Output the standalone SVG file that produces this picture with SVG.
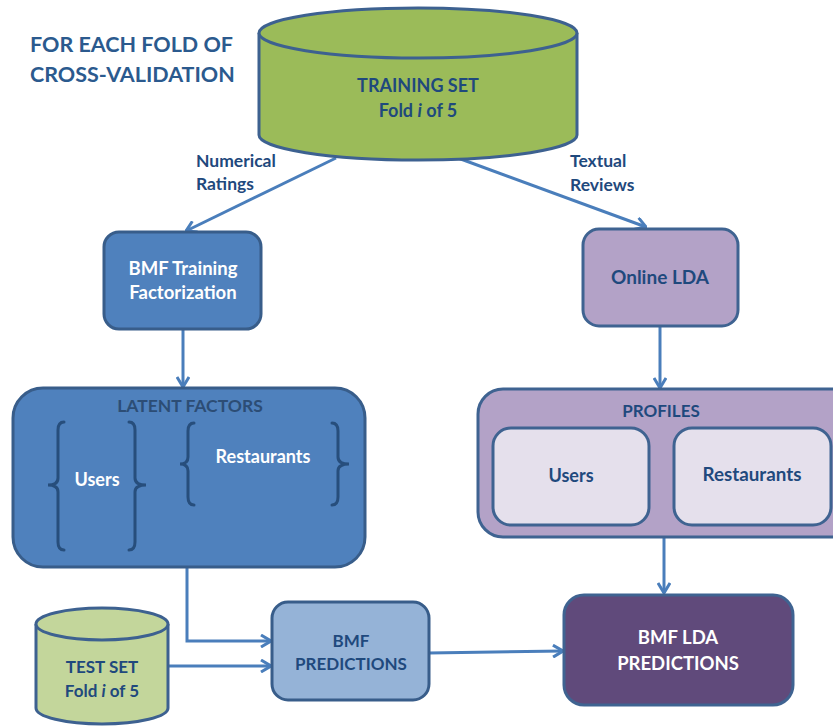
<svg xmlns="http://www.w3.org/2000/svg" width="833" height="727" viewBox="0 0 833 727">
<defs>
<style>
text{font-family:Lato,"Open Sans","Liberation Sans",sans-serif;font-weight:bold;text-anchor:middle}
.dk{fill:#1f497d}
.wh{fill:#ffffff}
.ttl{fill:#2b5a8e;font-size:21.5px;text-anchor:start}
.lbl{fill:#1f497d;font-size:17.5px;text-anchor:start}
.t18{font-size:18px}
.t17{font-size:17px}
.conn{fill:none;stroke:#4a7ebb;stroke-width:3}
.brace{fill:none;stroke:#274e7c;stroke-width:3;stroke-linecap:round}
.blue{fill:#4f81bd;stroke:#385d8a;stroke-width:3}
.lblue{fill:#95b3d7;stroke:#385d8a;stroke-width:3}
.purp{fill:#b3a2c7;stroke:#3f6391;stroke-width:3}
.lpurp{fill:#e5e0ec;stroke:#3f6391;stroke-width:3}
.dpurp{fill:#604a7b;stroke:#3f6391;stroke-width:3}
.green{fill:#9bbb59;stroke:#3d6190;stroke-width:3}
.lgreen{fill:#c3d69b;stroke:#3d6190;stroke-width:3}
</style>
<marker id="arr" viewBox="0 0 12 14" refX="11" refY="7" markerWidth="12" markerHeight="14" markerUnits="userSpaceOnUse" orient="auto">
<path d="M1,1 L11,7 L1,13" fill="none" stroke="#4a7ebb" stroke-width="3" stroke-linejoin="miter"/>
</marker>
</defs>
<rect width="833" height="727" fill="#ffffff"/>

<g id="title">
<text class="ttl" x="30" y="52">FOR EACH FOLD OF</text>
<text class="ttl" x="30" y="82">CROSS-VALIDATION</text>
</g>

<g id="connectors">
<line class="conn" x1="336" y1="158" x2="186" y2="231" marker-end="url(#arr)"/>
<line class="conn" x1="458" y1="158" x2="646" y2="227" marker-end="url(#arr)"/>
<line class="conn" x1="183" y1="329" x2="183" y2="387" marker-end="url(#arr)"/>
<line class="conn" x1="660" y1="326" x2="660" y2="388" marker-end="url(#arr)"/>
<line class="conn" x1="664" y1="537" x2="664" y2="593" marker-end="url(#arr)"/>
<polyline class="conn" points="187,567 187,641 271,641" marker-end="url(#arr)"/>
<line class="conn" x1="168" y1="666" x2="271" y2="666" marker-end="url(#arr)"/>
<line class="conn" x1="429" y1="653" x2="563" y2="651" marker-end="url(#arr)"/>
<text class="lbl" x="196" y="167">Numerical</text>
<text class="lbl" x="196" y="190">Ratings</text>
<text class="lbl" x="570" y="167">Textual</text>
<text class="lbl" x="570" y="191">Reviews</text>
</g>

<g id="training-set">
<path class="green" d="M259,33 L259,135 A159,25 0 0 0 577,135 L577,33 A159,25 0 0 0 259,33 Z"/>
<path class="green" d="M259,33 A159,25 0 0 0 577,33"/>
<text class="dk" x="418" y="92" font-size="18">TRAINING SET</text>
<text class="dk" x="418" y="117" font-size="18">Fold <tspan font-style="italic">i</tspan> of 5</text>
</g>

<g id="bmf-training">
<rect class="blue" x="104" y="232" width="157" height="97" rx="15"/>
<text class="wh" x="183" y="275" font-size="18.5">BMF Training</text>
<text class="wh" x="183" y="299" font-size="18.5">Factorization</text>
</g>

<g id="online-lda">
<rect class="purp" x="583" y="229" width="155" height="97" rx="16"/>
<text class="dk" x="660" y="284" font-size="19">Online LDA</text>
</g>

<g id="latent-factors">
<rect class="blue" x="13" y="388" width="352" height="179" rx="30"/>
<text x="190" y="412" font-size="17.5" font-weight="normal" fill="#2c4d75">LATENT FACTORS</text>
<path class="brace" d="M64,422 Q58,422 58,430 L58,478 Q58,485 48,485 Q58,485 58,492 L58,542 Q58,550 64,550"/>
<path class="brace" d="M129,422 Q135,422 135,430 L135,478 Q135,485 146,485 Q135,485 135,492 L135,542 Q135,550 129,550"/>
<path class="brace" d="M194,423 Q188,423 188,431 L188,457 Q188,464 180,464 Q188,464 188,471 L188,497 Q188,505 194,505"/>
<path class="brace" d="M332,423 Q338,423 338,431 L338,457 Q338,464 349,464 Q338,464 338,471 L338,497 Q338,505 332,505"/>
<text class="wh t18" x="97" y="486">Users</text>
<text class="wh t18" x="263" y="463">Restaurants</text>
</g>

<g id="profiles">
<rect class="purp" x="478" y="389" width="380" height="148" rx="25"/>
<text class="dk t17" x="661" y="417">PROFILES</text>
<rect class="lpurp" x="493" y="428" width="156" height="97" rx="18"/>
<text class="dk t18" x="571" y="482">Users</text>
<rect class="lpurp" x="674" y="428" width="157" height="97" rx="18"/>
<text class="dk" x="752" y="481" font-size="18.8">Restaurants</text>
</g>

<g id="test-set">
<path class="lgreen" d="M36,624 L36,708 A66,16 0 0 0 168,708 L168,624 A66,16 0 0 0 36,624 Z"/>
<path class="lgreen" d="M36,624 A66,16 0 0 0 168,624"/>
<text class="dk t17" x="102" y="673">TEST SET</text>
<text class="dk t17" x="102" y="697">Fold <tspan font-style="italic">i</tspan> of 5</text>
</g>

<g id="bmf-predictions">
<rect class="lblue" x="272" y="602" width="157" height="98" rx="16"/>
<text class="dk t17" x="351" y="647">BMF</text>
<text class="dk t17" x="351" y="670">PREDICTIONS</text>
</g>

<g id="bmf-lda-predictions">
<rect class="dpurp" x="564" y="595" width="229" height="110" rx="20"/>
<text class="wh" x="678" y="644" font-size="18.5">BMF LDA</text>
<text class="wh" x="678" y="670" font-size="18.5">PREDICTIONS</text>
</g>
</svg>
